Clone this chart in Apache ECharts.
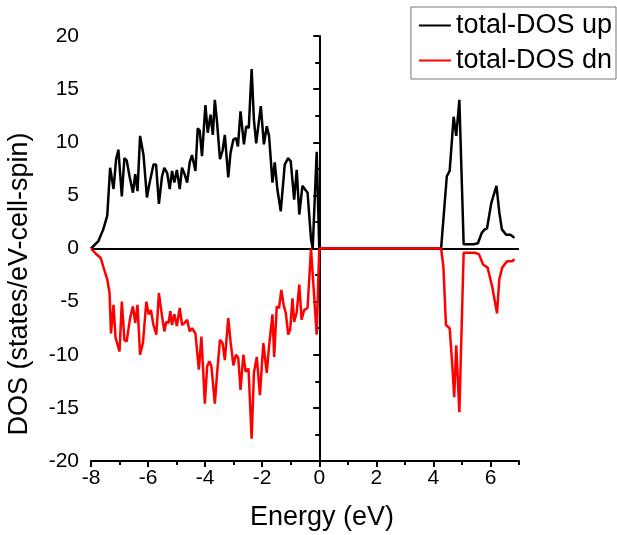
<!DOCTYPE html>
<html>
<head>
<meta charset="utf-8">
<script src="https://cdn.jsdelivr.net/npm/echarts@6/dist/echarts.min.js"></script>
<style>
  html, body { margin: 0; padding: 0; background: #fff; }
  #main { width: 617px; height: 535px; }
</style>
</head>
<body>
<div id="main"></div>
<script>
// spin-up DOS
const upE = [-8, -7.74, -7.57, -7.43, -7.33, -7.21, -7.12, -7.04, -6.92, -6.83, -6.75, -6.65, -6.53, -6.45, -6.37, -6.28, -6.16, -6.04, -5.96, -5.9,
  -5.81, -5.72, -5.62, -5.51, -5.43, -5.33, -5.24, -5.16, -5.08, -4.99, -4.89, -4.81, -4.72, -4.63, -4.54, -4.46, -4.34, -4.26, -4.19, -4.11,
  -3.99, -3.91, -3.81, -3.73, -3.66, -3.58, -3.48, -3.39, -3.31, -3.19, -3.11, -3.01, -2.92, -2.85, -2.76, -2.64, -2.56, -2.47, -2.37, -2.29,
  -2.21, -2.05, -1.94, -1.84, -1.76, -1.64, -1.56, -1.47, -1.35, -1.21, -1.09, -1.0, -0.88, -0.79, -0.7, -0.59, -0.51, -0.41, -0.29, -0.23,
  -0.09, 0, 4.27, 4.47, 4.57, 4.71, 4.8, 4.91, 5.06, 5.41, 5.56, 5.7, 5.8, 5.88, 6.03, 6.21, 6.31, 6.4, 6.55, 6.7, 6.84];
const upV = [0, 0.7, 1.8, 3.1, 7.6, 5.6, 8.4, 9.3, 4.9, 8.5, 8.3, 6.8, 5.25, 7.0, 5.4, 10.6, 8.8, 4.8, 6.0, 5.9,
  7.9, 7.9, 4.2, 6.8, 7.6, 7.1, 5.6, 7.3, 6.2, 7.4, 5.6, 7.6, 7.0, 6.2, 8.1, 8.8, 7.3, 11.3, 11.1, 8.7,
  13.5, 10.9, 12.6, 10.7, 14.0, 11.8, 8.4, 9.2, 10.7, 6.7, 9.0, 10.25, 10.4, 9.6, 12.9, 9.8, 11.5, 11.35, 16.9, 12.1,
  9.9, 13.4, 9.8, 11.5, 10.6, 6.2, 8.1, 5.6, 3.5, 7.9, 8.5, 8.2, 4.6, 7.4, 3.2, 5.9, 5.6, 5.25, 0.9, 0,
  9.1, 0, 0, 6.8, 7.3, 12.4, 10.6, 14.0, 0.4, 0.4, 0.5, 1.5, 1.8, 1.9, 4.3, 5.9, 3.4, 1.8, 1.3, 1.3, 1.0];

// spin-down DOS
const dnE = [-8, -7.8, -7.66, -7.57, -7.43, -7.35, -7.3, -7.21, -7.14, -7.08, -7.0, -6.92, -6.83, -6.75, -6.63, -6.53, -6.45, -6.37, -6.28, -6.18,
  -6.06, -5.98, -5.9, -5.81, -5.71, -5.62, -5.54, -5.43, -5.36, -5.28, -5.22, -5.16, -5.08, -4.99, -4.89, -4.81, -4.72, -4.63, -4.54, -4.46,
  -4.34, -4.22, -4.13, -4.01, -3.93, -3.85, -3.78, -3.66, -3.58, -3.48, -3.39, -3.31, -3.19, -3.11, -3.01, -2.92, -2.84, -2.76, -2.66, -2.58,
  -2.48, -2.37, -2.29, -2.19, -2.08, -1.96, -1.84, -1.76, -1.64, -1.58, -1.49, -1.41, -1.33, -1.25, -1.17, -1.09, -1.02, -0.94, -0.88, -0.79,
  -0.7, -0.62, -0.53, -0.41, -0.29, -0.09, 0, 4.27, 4.35, 4.44, 4.57, 4.65, 4.73, 4.8, 4.91, 5.06, 5.47, 5.6, 5.74, 5.9,
  6.06, 6.23, 6.31, 6.41, 6.58, 6.76, 6.84];
const dnV = [0, -0.57, -0.9, -1.7, -2.9, -4.2, -8.0, -5.3, -8.4, -8.5, -9.7, -5.0, -8.6, -8.75, -6.55, -5.45, -7.0, -5.3, -10.0, -8.9,
  -5.0, -6.2, -5.8, -7.2, -8.1, -4.2, -5.8, -7.8, -6.9, -7.0, -5.9, -7.2, -6.2, -7.3, -5.6, -7.2, -7.0, -6.7, -7.8, -7.5,
  -8.0, -11.4, -8.3, -14.6, -11.1, -10.6, -11.1, -14.6, -11.7, -8.6, -8.9, -10.5, -6.55, -8.75, -11.0, -10.0, -10.3, -13.3, -10.0, -11.6,
  -11.3, -17.9, -11.7, -10.2, -13.8, -8.9, -11.7, -9.2, -6.2, -10.2, -5.45, -5.6, -3.9, -5.3, -6.1, -8.1, -7.65, -4.7, -6.9, -6.0,
  -3.4, -6.7, -5.8, -5.6, 0, -8.1, 0, 0, -1.7, -7.2, -7.5, -10.5, -14.0, -9.1, -15.4, -0.4, -0.4, -0.55, -1.5, -1.8,
  -3.6, -6.1, -2.9, -1.8, -1.2, -1.2, -1.0];

const xMajor = [-8, -6, -4, -2, 0, 2, 4, 6];
const xMinor = [-7, -5, -3, -1, 1, 3, 5, 7];

const font = 'Liberation Sans';
const chart = echarts.init(document.getElementById('main'));

const pairs = (xs, ys) => xs.map((x, i) => [x, ys[i]]);

const baseX = {
  type: 'value',
  min: -8,
  max: 7,
  interval: 2,
  splitLine: { show: false },
  axisLine: { onZero: false, lineStyle: { color: '#000', width: 2 } }
};

chart.setOption({
  animation: false,
  backgroundColor: '#fff',
  grid: { left: 91, right: 98, top: 36, bottom: 74 },
  legend: {
    orient: 'vertical',
    right: 1,
    top: 7,
    padding: [5, 4, 5, 8],
    itemGap: 8,
    itemWidth: 32,
    itemHeight: 2,
    icon: 'rect',
    borderColor: '#777',
    borderWidth: 1,
    textStyle: { fontFamily: font, fontSize: 27, color: '#000' },
    data: ['total-DOS up', 'total-DOS dn']
  },
  xAxis: [
    Object.assign({}, baseX, {
      axisTick: { length: 6, customValues: xMajor, lineStyle: { color: '#000', width: 2 } },
      axisLabel: { customValues: xMajor, fontFamily: font, fontSize: 21, color: '#000', margin: 7 }
    }),
    Object.assign({}, baseX, {
      axisLine: { show: false, onZero: false },
      axisTick: { length: 4, customValues: xMinor, lineStyle: { color: '#000', width: 2 } },
      axisLabel: { show: false },
      position: 'bottom'
    })
  ],
  yAxis: {
    type: 'value',
    min: -20,
    max: 20,
    interval: 5,
    splitLine: { show: false },
    axisLine: { lineStyle: { color: '#000', width: 2 } },
    axisTick: { length: 6, lineStyle: { color: '#000', width: 2 } },
    minorTick: { show: true, splitNumber: 2, length: 4, lineStyle: { color: '#000', width: 2 } },
    axisLabel: { fontFamily: font, fontSize: 21, color: '#000', margin: 12 }
  },
  graphic: [{
    type: 'text',
    x: 20,
    y: 284,
    rotation: Math.PI / 2,
    style: {
      text: 'DOS (states/eV-cell-spin)',
      fontFamily: font,
      fontSize: 27,
      fill: '#000',
      align: 'center',
      verticalAlign: 'middle'
    }
  }, {
    type: 'text',
    x: 322,
    y: 518,
    style: {
      text: 'Energy (eV)',
      fontFamily: font,
      fontSize: 27,
      fill: '#000',
      align: 'center',
      verticalAlign: 'middle'
    }
  }],
  series: [
    {
      name: 'total-DOS up',
      type: 'line',
      z: 2,
      symbol: 'none',
      color: '#000',
      lineStyle: { color: '#000', width: 2.5 },
      data: pairs(upE, upV),
      markLine: {
        z: 1,
        silent: true,
        symbol: ['none', 'none'],
        label: { show: false },
        lineStyle: { color: '#000', width: 2, type: 'solid' },
        data: [{ yAxis: 0 }, { xAxis: 0 }]
      }
    },
    {
      name: 'total-DOS dn',
      type: 'line',
      z: 3,
      symbol: 'none',
      color: '#ff0000',
      lineStyle: { color: '#ff0000', width: 2.5 },
      data: pairs(dnE, dnV)
    }
  ]
});
</script>
</body>
</html>
